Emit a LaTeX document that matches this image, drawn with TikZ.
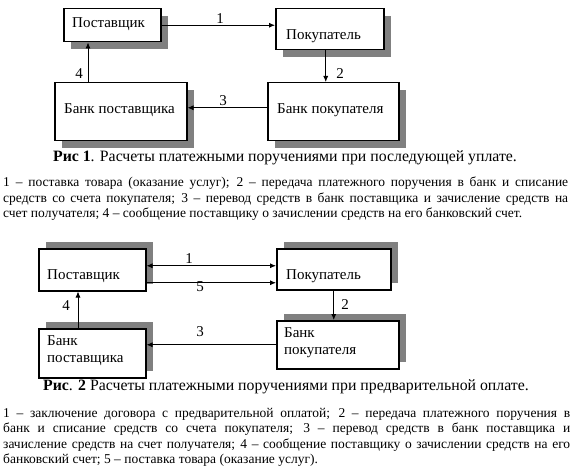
\documentclass[tikz,border=0pt]{standalone}
\usepackage{fontspec}
\setmainfont{Liberation Serif}
\usetikzlibrary{arrows.meta,shadows}
\definecolor{shadowgray}{RGB}{128,128,128}
\tikzset{
  boxnode/.style={draw, line width=1.5pt, fill=white, inner sep=0pt, anchor=north west},
  shdown/.style={drop shadow={shadow xshift=7pt, shadow yshift=-7pt, opacity=1, fill=shadowgray}},
  shup/.style={drop shadow={shadow xshift=7pt, shadow yshift=7pt, opacity=1, fill=shadowgray}},
  lbl/.style={inner sep=0pt, anchor=west, font=\fontsize{15}{17}\selectfont, align=left},
  num/.style={inner sep=0pt, font=\fontsize{15}{17}\selectfont},
  arr/.style={line width=0.8pt, -{Latex[length=6pt,width=5pt]}},
  darr/.style={line width=0.8pt, {Latex[length=6pt,width=5pt]}-{Latex[length=6pt,width=5pt]}},
  capt/.style={inner sep=0pt, font=\fontsize{15.8}{18}\selectfont},
  body/.style={inner sep=0pt, anchor=north west, align=justify, font=\fontsize{13.5}{15.5}\selectfont}
}
\begin{document}
\begin{tikzpicture}[x=1pt,y=-1pt]
\useasboundingbox[fill=white] (0,0) rectangle (575,473);
% ---------- Figure 1 ----------
\node[boxnode, shdown, minimum width=97pt, minimum height=33pt] (s1) at (63,8) {};
\node[boxnode, shdown, minimum width=108pt, minimum height=41pt] (b1) at (275,8) {};
\node[boxnode, shdown, minimum width=132pt, minimum height=58pt] (bs1) at (54,82) {};
\node[boxnode, shdown, minimum width=131pt, minimum height=58pt] (bb1) at (267,82) {};
\node[lbl] (ts1) at (72,24) {Поставщик};
\node[lbl] (tb1) at (286,36) {Покупатель};
\node[lbl] (tbs1) at (64,110) {Банк поставщика};
\node[lbl] (tbb1) at (277,110) {Банк покупателя};
\draw[arr] (s1.east) -- (s1.east -| b1.west);
\draw[arr] ([xshift=-4pt]b1.south) -- ([xshift=-4pt]b1.south |- bb1.north);
\draw[arr] ([yshift=4pt]bb1.west) -- ([yshift=4pt]bb1.west -| bs1.east);
\draw[arr] ([xshift=34pt]bs1.north west) -- ([xshift=34pt]bs1.north west |- s1.south);
\node[num] (n11) at (220,19) {1};
\node[num] (n12) at (340,74) {2};
\node[num] (n13) at (223,101) {3};
\node[num] (n14) at (79,74) {4};
\node[capt] (c1) at (285,158) {\textbf{Рис 1}. Расчеты платежными поручениями при последующей уплате.};
\node[body, text width=565pt] (d1) at (3,177) {1 – поставка товара (оказание услуг); 2 – передача платежного поручения в банк и списание\linebreak средств со счета покупателя; 3 – перевод средств в банк поставщика и зачисление средств на\linebreak счет получателя; 4 – сообщение поставщику о зачислении средств на его банковский счет.};
% ---------- Figure 2 ----------
\node[boxnode, shup, minimum width=107pt, minimum height=42pt] (s2) at (38,248) {};
\node[boxnode, shup, minimum width=114pt, minimum height=41pt] (b2) at (276,248) {};
\node[boxnode, shup, minimum width=107pt, minimum height=49pt] (bs2) at (38,328) {};
\node[boxnode, shup, minimum width=122pt, minimum height=48pt] (bb2) at (276,320) {};
\node[lbl] (ts2) at (47,276) {Поставщик};
\node[lbl] (tb2) at (286,276) {Покупатель};
\node[lbl] (tbs2) at (47,351) {Банк\\поставщика};
\node[lbl] (tbb2) at (284,343) {Банк\\покупателя};
\draw[darr] ([yshift=4pt]s2.east) -- ([yshift=4pt]s2.east -| b2.west);
\draw[arr] ([yshift=-13pt]s2.east) -- ([yshift=-13pt]s2.east -| b2.west);
\draw[arr] (b2.south) -- (b2.south |- bb2.north);
\draw[arr] (bb2.west) -- (bb2.west -| bs2.east);
\draw[arr] ([xshift=40pt]bs2.north west) -- ([xshift=40pt]bs2.north west |- s2.south);
\node[num] (n21) at (189,259) {1};
\node[num] (n25) at (200,287) {5};
\node[num] (n24) at (66,306) {4};
\node[num] (n22) at (345,305) {2};
\node[num] (n23) at (200,332) {3};
\node[capt] (c2) at (286,387) {\textbf{Рис}. \textbf{2} Расчеты платежными поручениями при предварительной оплате.};
\node[body, text width=567pt] (d2) at (3,408) {1 – заключение договора с предварительной оплатой; 2 – передача платежного поручения в\linebreak банк и списание средств со счета покупателя; 3 – перевод средств в банк поставщика и\linebreak зачисление средств на счет получателя; 4 – сообщение поставщику о зачислении средств на его\linebreak банковский счет; 5 – поставка товара (оказание услуг).};
\end{tikzpicture}
\end{document}
